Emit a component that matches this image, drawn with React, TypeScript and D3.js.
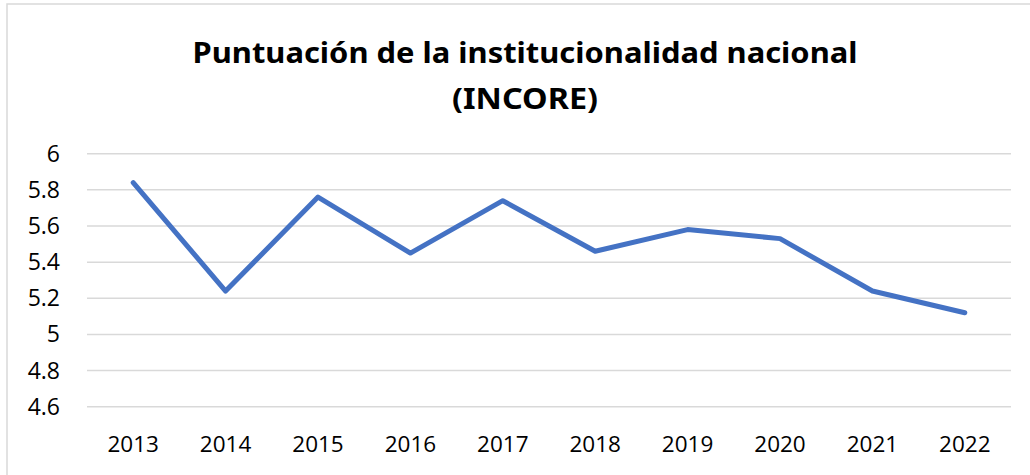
import React from "react";
import * as d3 from "d3";

const years = ["2013", "2014", "2015", "2016", "2017", "2018", "2019", "2020", "2021", "2022"];
const scores = [5.84, 5.24, 5.76, 5.45, 5.74, 5.46, 5.58, 5.53, 5.24, 5.12];
const yTicks = [4.6, 4.8, 5, 5.2, 5.4, 5.6, 5.8, 6];
const titleLines = ["Puntuación de la institucionalidad nacional", "(INCORE)"];
const titleWidths = [665, 146];

const W = 1030;
const H = 475;

export default function App() {
  const x = d3.scaleBand<string>().domain(years).range([87, 1011]);
  const y = d3.scaleLinear().domain([4.6, 6]).range([406.7, 153.7]);
  const line = d3
    .line<number>()
    .x((_, i) => (x(years[i]) as number) + x.bandwidth() / 2)
    .y((d) => y(d));

  return (
    <svg
      width={W}
      height={H}
      style={{ position: "absolute", left: 0, top: 0, background: "#fff" }}
    >
      <rect x={7} y={4} width={1040} height={500} fill="#fff" stroke="#d9d9d9" strokeWidth={1.5} />
      {titleLines.map((t, i) => (
        <text
          key={i}
          x={525}
          y={63 + i * 46}
          textAnchor="middle"
          fontFamily="'Noto Sans', 'Open Sans', sans-serif"
          fontWeight="bold"
          fontSize={29}
          textLength={titleWidths[i]}
          lengthAdjust="spacingAndGlyphs"
          fill="#000"
        >
          {t}
        </text>
      ))}
      {yTicks.map((t) => (
        <g key={t}>
          <line x1={87} x2={1011} y1={y(t)} y2={y(t)} stroke="#d9d9d9" strokeWidth={1.5} />
          <text
            x={60}
            y={y(t)}
            dy="0.35em"
            textAnchor="end"
            fontFamily="'Open Sans', sans-serif"
            fontSize={23}
            fill="#000"
          >
            {d3.format("")(t)}
          </text>
        </g>
      ))}
      {years.map((yr) => (
        <text
          key={yr}
          x={(x(yr) as number) + x.bandwidth() / 2}
          y={452}
          textAnchor="middle"
          fontFamily="'Open Sans', sans-serif"
          fontSize={22.5}
          fill="#000"
        >
          {yr}
        </text>
      ))}
      <path
        d={line(scores) || ""}
        fill="none"
        stroke="#4472C4"
        strokeWidth={5}
        strokeLinecap="round"
        strokeLinejoin="round"
      />
    </svg>
  );
}
